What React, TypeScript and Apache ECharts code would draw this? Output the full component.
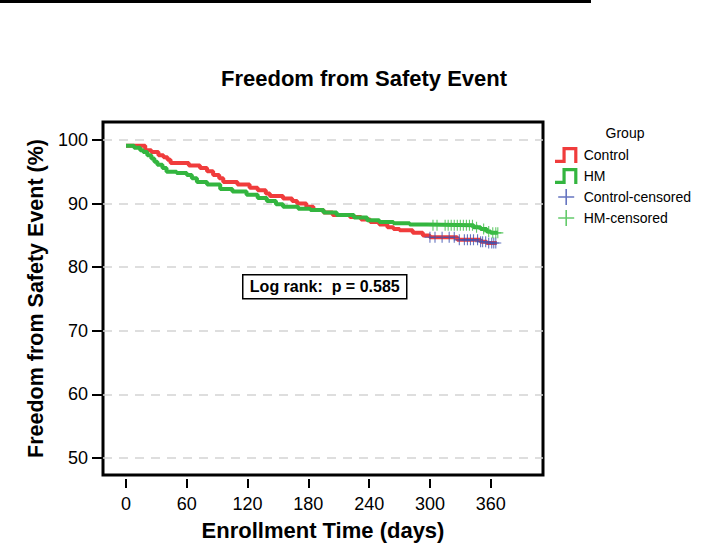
import React, { useEffect, useRef } from "react";
import * as echarts from "echarts";

const xTicks = [0, 60, 120, 180, 240, 300, 360];
const yTicks = [50, 60, 70, 80, 90, 100];

const controlDays = [0, 19, 25, 32, 37, 41, 44, 62, 73, 80, 86, 92, 96, 110, 122, 130, 138, 142, 155, 164, 169, 178, 185, 195, 204, 221, 232, 241, 250, 258, 264, 270, 283, 293, 300, 327, 350, 356, 366];
const controlSurv = [99.1, 98.4, 98.1, 97.6, 97.3, 96.9, 96.4, 96.0, 95.6, 95.1, 94.5, 94.0, 93.4, 93.0, 92.5, 92.1, 91.6, 91.2, 90.8, 90.4, 90.0, 89.5, 89.0, 88.6, 88.2, 87.9, 87.5, 87.1, 86.7, 86.3, 86.0, 85.8, 85.4, 85.0, 84.7, 84.3, 84.0, 83.8, 83.7];

const hmDays = [0, 8, 14, 17, 21, 25, 28, 31, 36, 40, 50, 60, 65, 70, 80, 93, 105, 119, 130, 139, 148, 155, 170, 182, 195, 208, 225, 238, 250, 264, 280, 297, 343, 350, 356, 360, 367];
const hmSurv = [99.1, 98.8, 98.4, 98.1, 97.6, 97.1, 96.6, 96.1, 95.6, 95.0, 94.8, 94.5, 94.0, 93.4, 93.0, 92.3, 91.9, 91.4, 90.9, 90.4, 89.9, 89.5, 89.2, 89.0, 88.6, 88.2, 87.8, 87.4, 87.1, 86.9, 86.7, 86.6, 86.3, 86.0, 85.6, 85.4, 85.4];

const controlCensDays = [300, 305, 312, 319, 324, 329, 334, 337, 340, 343, 347, 350, 352, 355, 358, 361, 363, 365];
const controlCensSurv = [84.7, 84.7, 84.7, 84.7, 84.7, 84.3, 84.3, 84.3, 84.3, 84.3, 84.3, 84.0, 84.0, 84.0, 83.8, 83.8, 83.8, 83.8];

const hmCensDays = [303, 307, 315, 318, 321, 324, 327, 330, 333, 336, 339, 342, 346, 353, 358, 362, 365, 367];
const hmCensSurv = [86.6, 86.6, 86.6, 86.6, 86.6, 86.6, 86.6, 86.6, 86.6, 86.6, 86.6, 86.6, 86.3, 86.0, 85.6, 85.4, 85.4, 85.4];

const RED = "#f03c3c";
const GREEN = "#33b53f";
const BLUE = "#4052b0";
const GREEN_C = "#3dbd46";
const FONT = "'Liberation Sans', Arial, sans-serif";

const stepIcon = "path://M0,12L7,12L7,0L21,0L21,15L18,15L18,3L10,3L10,15L0,15Z";
const plusIcon = "path://M-0.6,-6H0.6V-0.6H6V0.6H0.6V6H-0.6V0.6H-6V-0.6H-0.6Z";

const zip = (a: number[], b: number[]) => a.map((v, i) => [v, b[i]]);

export default function App() {
  const ref = useRef<HTMLDivElement>(null);
  useEffect(() => {
    if (!ref.current) return;
    const chart = echarts.init(ref.current, null, { renderer: "svg" });
    chart.setOption({
      animation: false,
      backgroundColor: "#fff",
      title: [
        {
          text: "Freedom from Safety Event",
          left: 364,
          top: 67,
          padding: 0,
          textAlign: "center",
          textStyle: { fontFamily: FONT, fontSize: 22, fontWeight: "bold", color: "#000" },
        },
        {
          text: "Group",
          left: 625,
          top: 126,
          padding: 0,
          textAlign: "center",
          textStyle: { fontFamily: FONT, fontSize: 14, fontWeight: "normal", color: "#000" },
        },
      ],
      legend: {
        orient: "vertical",
        left: 555,
        top: 147,
        padding: 0,
        itemWidth: 25,
        itemHeight: 16,
        itemGap: 5,
        selectedMode: false,
        textStyle: { fontFamily: FONT, fontSize: 14, color: "#000" },
        itemStyle: { borderWidth: 0 },
        data: [
          { name: "Control", icon: stepIcon },
          { name: "HM", icon: stepIcon },
          { name: "Control-censored", icon: plusIcon },
          { name: "HM-censored", icon: plusIcon },
        ],
      },
      grid: {
        left: 103,
        right: 181,
        top: 122,
        bottom: 80,
        show: true,
        borderColor: "#000",
        borderWidth: 3,
      },
      xAxis: {
        type: "value",
        min: -22.7,
        max: 411.6,
        offset: 4,
        axisLine: { show: false, onZero: false },
        axisTick: { show: true, length: 9, customValues: xTicks, lineStyle: { color: "#000", width: 2 } },
        axisLabel: { customValues: xTicks, margin: 16, fontFamily: FONT, fontSize: 18, color: "#000" },
        splitLine: { show: false },
        name: "Enrollment Time (days)",
        nameLocation: "middle",
        nameGap: 40,
        nameTextStyle: { fontFamily: FONT, fontSize: 22, fontWeight: "bold", color: "#000" },
      },
      yAxis: {
        type: "value",
        min: 47.33,
        max: 102.83,
        axisLine: { show: false, onZero: false },
        axisTick: { show: true, length: 11, customValues: yTicks, lineStyle: { color: "#000", width: 2 } },
        axisLabel: { customValues: yTicks, margin: 15, fontFamily: FONT, fontSize: 18, color: "#000" },
        splitLine: { show: true, lineStyle: { color: "#d4d4d4", width: 1.5, type: [9, 7] } },
        name: "Freedom from Safety Event (%)",
        nameLocation: "middle",
        nameRotate: 90,
        nameGap: 52,
        nameTextStyle: { fontFamily: FONT, fontSize: 21.5, fontWeight: "bold", color: "#000" },
      },
      series: [
        {
          name: "Control",
          type: "line",
          step: "end",
          showSymbol: false,
          symbol: "none",
          color: RED,
          itemStyle: { color: RED },
          lineStyle: { color: RED, width: 4 },
          data: zip(controlDays, controlSurv),
          z: 3,
        },
        {
          name: "HM",
          type: "line",
          step: "end",
          showSymbol: false,
          symbol: "none",
          color: GREEN,
          itemStyle: { color: GREEN },
          lineStyle: { color: GREEN, width: 4 },
          data: zip(hmDays, hmSurv),
          z: 4,
        },
        {
          name: "Control-censored",
          type: "scatter",
          symbol: plusIcon,
          symbolSize: 11,
          color: BLUE,
          itemStyle: { color: BLUE },
          data: zip(controlCensDays, controlCensSurv),
          z: 5,
        },
        {
          name: "HM-censored",
          type: "scatter",
          symbol: plusIcon,
          symbolSize: 11,
          color: GREEN_C,
          itemStyle: { color: GREEN_C },
          data: zip(hmCensDays, hmCensSurv),
          z: 5,
        },
      ],
      graphic: [
        { type: "rect", shape: { x: 0, y: 0, width: 591, height: 3 }, style: { fill: "#000" } },
        {
          type: "group",
          left: 242,
          top: 274,
          children: [
            { type: "rect", shape: { x: 0, y: 0, width: 164, height: 24 }, style: { fill: "#fff", stroke: "#000", lineWidth: 1.5 } },
            {
              type: "text",
              x: 82,
              y: 12,
              style: {
                text: "Log rank:  p = 0.585",
                fontFamily: FONT,
                fontSize: 16,
                fontWeight: "bold",
                fill: "#000",
                align: "center",
                verticalAlign: "middle",
              },
            },
          ],
        },
      ],
    });
    return () => chart.dispose();
  }, []);
  return <div ref={ref} style={{ position: "fixed", left: 0, top: 0, width: 724, height: 555 }} />;
}
